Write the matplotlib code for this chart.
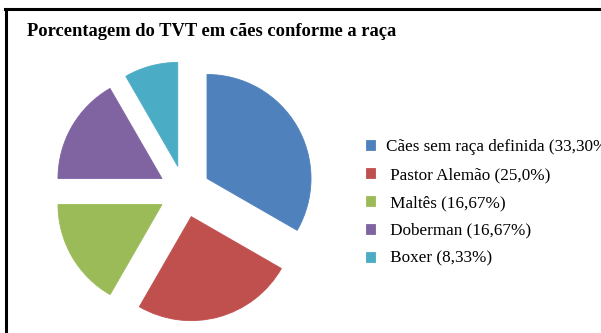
import matplotlib.pyplot as plt
from matplotlib.lines import Line2D

# dados
racas = ["Cães sem raça definida", "Pastor Alemão", "Maltês", "Doberman", "Boxer"]
rotulos = ["(33,30%)", "(25,0%)", "(16,67%)", "(16,67%)", "(8,33%)"]
valores = [33.30, 25.0, 16.67, 16.67, 8.33]
cores = ["#4F81BD", "#C0504D", "#9BBB59", "#8064A2", "#4BACC6"]

W, H = 601, 333
fig = plt.figure(figsize=(W / 100, H / 100), dpi=100)
fig.patch.set_facecolor("white")

# pie: centro ~ (184.5, 191.5) px, raio ~104 px
R = 104
cx, cy = 184.5, H - 191.5
lim = 1.5
ax = fig.add_axes([(cx - lim * R) / W, (cy - lim * R) / H, 2 * lim * R / W, 2 * lim * R / H])
wedges, _ = ax.pie(valores, colors=cores, startangle=90, counterclock=False,
                   explode=[0.25] * len(valores),
                   wedgeprops=dict(linewidth=0.6))
for w in wedges:
    w.set_edgecolor(w.get_facecolor())
ax.set_xlim(-lim, lim)
ax.set_ylim(-lim, lim)
ax.set_aspect("equal")
ax.axis("off")

labels = [r + " " + p for r, p in zip(racas, rotulos)]
labels = [labels[0]] + [" " + l for l in labels[1:]]
fig.legend(wedges, labels, loc="upper left", bbox_to_anchor=(366 / W, 1 - 139 / H),
           frameon=False, prop=dict(family="Liberation Serif", size=12.3),
           handlelength=0.5, handleheight=0.5, handletextpad=0.7,
           labelspacing=0.70, borderpad=0, borderaxespad=0)

fig.text(27 / W, 1 - 32 / H, "Porcentagem do TVT em cães conforme a raça",
         family="Liberation Serif", fontweight="bold", size=13.3, va="center")

# moldura (esquerda e topo)
fig.add_artist(Line2D([6 / W, 6 / W], [0, 1 - 9 / H], color="black", lw=2.2,
                      transform=fig.transFigure))
fig.add_artist(Line2D([5 / W, 1], [1 - 9 / H, 1 - 9 / H], color="black", lw=2.2,
                      transform=fig.transFigure))

fig.savefig("out.png", dpi=100)
